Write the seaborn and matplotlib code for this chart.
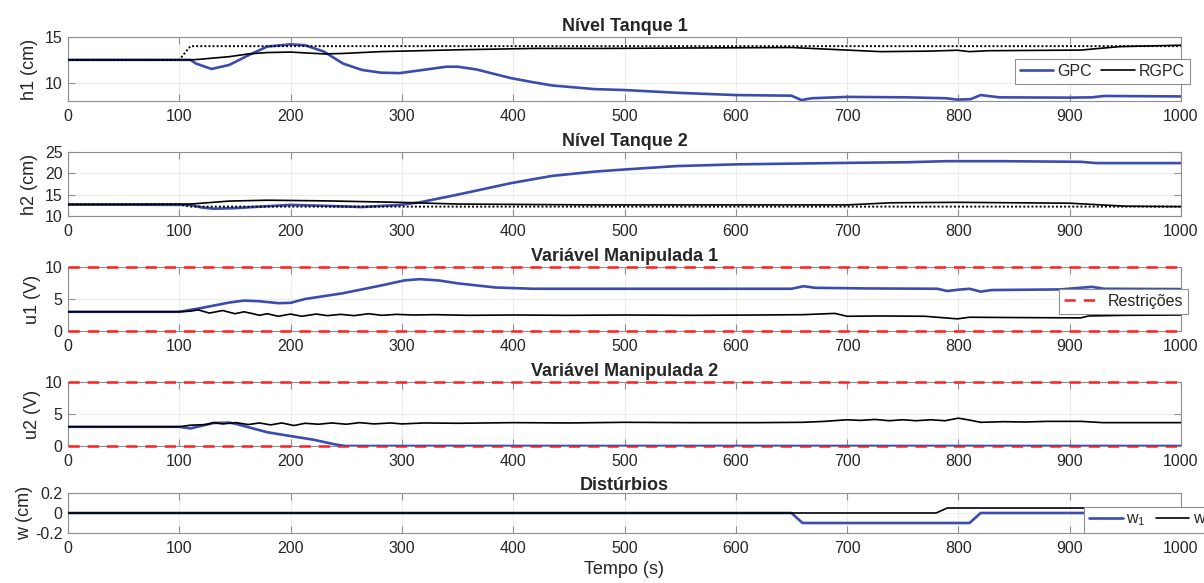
import seaborn as sns
import matplotlib.pyplot as plt

# tempo (s) e valores
t_ref = [0, 100, 110, 1000]
h1_ref = [12.5, 12.5, 14.0, 14.0]
h2_ref = [12.7, 12.7, 12.2, 12.2]

t_h1_gpc = [0, 110, 115, 129, 145, 162, 179, 200, 213, 230, 247, 264, 281, 298, 316, 340, 350, 367,
            398, 418, 435, 473, 500, 547, 600, 650, 659, 668, 700, 754, 789, 799, 811, 820, 837, 900,
            920, 931, 1000]
h1_gpc = [12.5, 12.5, 12.1, 11.5, 11.95, 13.0, 13.95, 14.2, 14.1, 13.4, 12.1, 11.4, 11.1, 11.05, 11.35,
          11.75, 11.75, 11.45, 10.5, 10.05, 9.7, 9.3, 9.2, 8.9, 8.65, 8.58, 8.1, 8.3, 8.45, 8.4, 8.3, 8.15,
          8.2, 8.65, 8.4, 8.37, 8.4, 8.55, 8.5]

t_h1_rgpc = [0, 110, 117, 131, 145, 162, 179, 200, 215, 230, 247, 281, 350, 418, 478, 650, 700, 730,
             772, 799, 810, 827, 910, 945, 1000]
h1_rgpc = [12.5, 12.5, 12.55, 12.7, 12.85, 13.15, 13.3, 13.35, 13.25, 13.15, 13.2, 13.4, 13.6, 13.75,
           13.75, 13.85, 13.57, 13.4, 13.45, 13.55, 13.4, 13.5, 13.57, 13.95, 14.1]

t_h2_gpc = [0, 110, 120, 131, 151, 179, 200, 230, 264, 298, 316, 350, 398, 435, 473, 500, 547, 600,
            700, 754, 789, 837, 910, 924, 1000]
h2_gpc = [12.7, 12.6, 12.0, 11.7, 11.85, 12.3, 12.6, 12.4, 12.1, 12.6, 13.2, 15.0, 17.7, 19.4, 20.4,
          20.9, 21.7, 22.1, 22.45, 22.6, 22.85, 22.85, 22.7, 22.4, 22.4]

t_h2_rgpc = [0, 110, 145, 179, 230, 298, 350, 473, 700, 740, 800, 900, 950, 1000]
h2_rgpc = [12.7, 12.8, 13.5, 13.7, 13.55, 13.2, 12.8, 12.6, 12.6, 13.1, 13.2, 13.0, 12.3, 12.2]

t_u1_gpc = [0, 100, 120, 145, 158, 172, 189, 200, 213, 247, 281, 302, 316, 333, 350, 384, 418, 650,
            661, 671, 718, 781, 790, 800, 810, 820, 830, 892, 920, 931, 1000]
u1_gpc = [3.0, 3.0, 3.6, 4.45, 4.75, 4.65, 4.35, 4.4, 5.0, 5.9, 7.1, 7.9, 8.1, 7.9, 7.45, 6.8, 6.6, 6.6,
          7.0, 6.75, 6.65, 6.6, 6.25, 6.45, 6.6, 6.15, 6.4, 6.5, 6.9, 6.6, 6.55]

t_u1_rgpc = [0, 100, 110, 117, 127, 139, 150, 158, 165, 172, 179, 189, 200, 210, 223, 233, 245, 257,
             270, 282, 295, 310, 330, 360, 400, 450, 500, 560, 620, 660, 689, 700, 730, 770, 799, 810,
             850, 910, 917, 950, 1000]
u1_rgpc = [3.0, 3.0, 3.1, 3.3, 2.8, 3.2, 2.7, 3.0, 2.75, 2.45, 2.7, 2.3, 2.65, 2.3, 2.65, 2.4, 2.6, 2.4,
           2.7, 2.45, 2.6, 2.5, 2.55, 2.45, 2.5, 2.45, 2.5, 2.45, 2.5, 2.55, 2.75, 2.3, 2.35, 2.3, 1.9,
           2.15, 2.1, 2.05, 2.35, 2.45, 2.5]

t_u2_gpc = [0, 100, 110, 131, 145, 151, 179, 200, 220, 240, 249, 1000]
u2_gpc = [3.0, 3.0, 2.75, 3.6, 3.65, 3.45, 2.15, 1.55, 1.0, 0.25, 0.0, 0.0]

t_u2_rgpc = [0, 100, 110, 124, 131, 139, 151, 162, 172, 182, 192, 203, 213, 225, 237, 250, 262, 275,
             290, 300, 320, 350, 400, 450, 500, 560, 620, 660, 680, 700, 712, 725, 738, 750, 762, 775,
             788, 800, 810, 820, 840, 860, 880, 910, 930, 1000]
u2_rgpc = [3.0, 3.0, 3.25, 3.35, 3.65, 3.45, 3.65, 3.35, 3.6, 3.3, 3.6, 3.2, 3.55, 3.4, 3.6, 3.4, 3.65,
           3.45, 3.6, 3.45, 3.6, 3.55, 3.65, 3.6, 3.7, 3.65, 3.65, 3.7, 3.85, 4.1, 4.0, 4.15, 3.95, 4.1,
           3.95, 4.1, 3.95, 4.35, 4.05, 3.7, 3.8, 3.75, 3.85, 3.85, 3.65, 3.65]

t_w1 = [0, 650, 660, 810, 820, 1000]
w1 = [0, 0, -0.1, -0.1, 0, 0]
t_w2 = [0, 780, 790, 1000]
w2 = [0, 0, 0.05, 0.05]

u_min, u_max = 0, 10

titulos = ['Nível Tanque 1', 'Nível Tanque 2', 'Variável Manipulada 1', 'Variável Manipulada 2', 'Distúrbios']
ylabels = ['h1 (cm)', 'h2 (cm)', 'u1 (V)', 'u2 (V)', 'w (cm)']
ylims = [(8, 15), (10, 25), (0, 10), (0, 10), (-0.2, 0.2)]
yticks = [[10, 15], [10, 15, 20, 25], [0, 5, 10], [0, 5, 10], [-0.2, 0, 0.2]]

sns.set_theme(style='whitegrid')
plt.rcParams['font.family'] = ['Liberation Sans', 'DejaVu Sans']
plt.rcParams['mathtext.fontset'] = 'custom'
plt.rcParams['mathtext.rm'] = 'Liberation Sans'
plt.rcParams['mathtext.it'] = 'Liberation Sans:italic'
plt.rcParams['mathtext.default'] = 'regular'

azul = '#3b4cb0'
vermelho = '#ff1f1f'
cinza = '#8f8f8f'

fig = plt.figure(figsize=(12.04, 5.83), dpi=100)
W, H = 1204, 583
caixas = [(37, 101), (152, 216), (267, 331), (382, 446), (493, 533)]
axes = []
for topo, base in caixas:
    ax = fig.add_axes([68 / W, 1 - base / H, 1113 / W, (base - topo) / H])
    axes.append(ax)

dados = [
    (t_h1_gpc, h1_gpc, t_h1_rgpc, h1_rgpc),
    (t_h2_gpc, h2_gpc, t_h2_rgpc, h2_rgpc),
    (t_u1_gpc, u1_gpc, t_u1_rgpc, u1_rgpc),
    (t_u2_gpc, u2_gpc, t_u2_rgpc, u2_rgpc),
    (t_w1, w1, t_w2, w2),
]

for i, ax in enumerate(axes):
    ta, ya, tb, yb = dados[i]
    if i in (2, 3):
        for lim in (u_min, u_max):
            ax.axhline(lim, color=vermelho, lw=1.8, dashes=(4.5, 3.2), zorder=2.7, clip_on=False,
                       label='Restrições')
    sns.lineplot(x=ta, y=ya, ax=ax, color=azul, lw=1.9, estimator=None, zorder=3,
                 label='GPC' if i == 0 else 'w$_1$')
    sns.lineplot(x=tb, y=yb, ax=ax, color='black', lw=1.2, estimator=None, zorder=3.1,
                 label='RGPC' if i == 0 else 'w$_2$')
    if i == 0:
        sns.lineplot(x=t_ref, y=h1_ref, ax=ax, color='black', lw=1.4, ls=(0, (1, 1.1)), estimator=None, zorder=3.2)
    if i == 1:
        sns.lineplot(x=t_ref, y=h2_ref, ax=ax, color='black', lw=1.4, ls=(0, (1, 1.1)), estimator=None, zorder=3.2)

    ax.set_xlim(0, 1000)
    ax.set_ylim(*ylims[i])
    ax.set_xticks(range(0, 1001, 100))
    ax.set_yticks(yticks[i])
    ax.set_yticklabels([f'{v:g}' for v in yticks[i]])
    ax.grid(True, color='#ececec', lw=0.8)
    for s in ax.spines.values():
        s.set_color(cinza)
        s.set_linewidth(0.8)
    ax.tick_params(axis='both', direction='in', length=5, width=0.8, color=cinza,
                   bottom=True, top=True, left=True, right=True, labelsize=11.5, labelcolor='#262626')
    ax.tick_params(axis='x', pad=6)
    ax.tick_params(axis='y', pad=4)
    ax.set_title(titulos[i], fontsize=13, fontweight='bold', pad=2 if i == 4 else 4)
    ax.set_ylabel(ylabels[i], fontsize=13, color='#262626')
    ax.set_xlabel('')
    if ax.get_legend() is not None:
        ax.get_legend().remove()

    linhas = ax.get_lines()
    if i == 0:
        leg = ax.legend(handles=linhas[:2], loc='center right', bbox_to_anchor=(1.008, 0.46), ncol=2,
                        borderaxespad=0, fontsize=11.5, handlelength=2.1, handletextpad=0.25,
                        columnspacing=0.6, borderpad=0.3)
    elif i == 2:
        leg = ax.legend(handles=linhas[:1], loc='center right', bbox_to_anchor=(1.006, 0.46),
                        borderaxespad=0, fontsize=11.5, handlelength=2.1, handletextpad=0.6, borderpad=0.3)
    elif i == 4:
        leg = ax.legend(handles=linhas[:2], loc='lower left', bbox_to_anchor=(0.913, 0.0), ncol=2,
                        borderaxespad=0, fontsize=11.5, handlelength=2.1, handletextpad=0.25,
                        columnspacing=0.6, borderpad=0.3)
    else:
        leg = None
    if leg is not None:
        leg.get_frame().set_edgecolor(cinza)
        leg.get_frame().set_linewidth(0.8)
        leg.get_frame().set_boxstyle('square', pad=0)
        leg.get_frame().set_alpha(1)
        leg.set_zorder(5)

axes[0].yaxis.set_label_coords(-0.027, 0.5)
axes[1].yaxis.set_label_coords(-0.027, 0.5)
axes[2].yaxis.set_label_coords(-0.024, 0.5)
axes[3].yaxis.set_label_coords(-0.024, 0.5)
axes[4].yaxis.set_label_coords(-0.031, 0.5)
axes[4].set_xlabel('Tempo (s)', fontsize=13, color='#262626', labelpad=3)

fig.savefig('out.png', dpi=100)
